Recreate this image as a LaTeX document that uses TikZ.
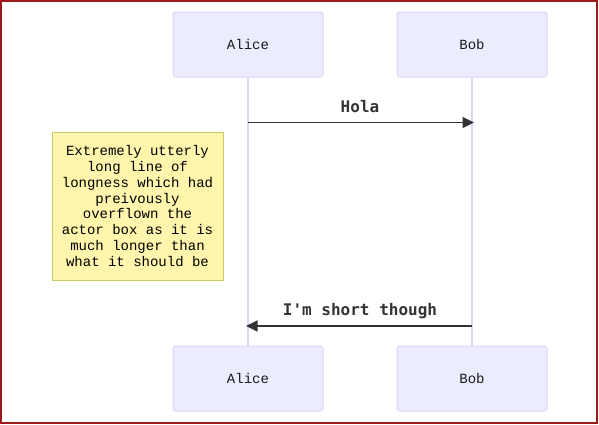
\documentclass[tikz,border=0pt]{standalone}
\usepackage{fontspec}
\usetikzlibrary{arrows.meta}
\newfontfamily\actorfont{Liberation Mono}
\newfontfamily\notefont{Liberation Mono}
\newfontfamily\msgfont{DejaVu Sans Mono}
\definecolor{actorfill}{HTML}{ECECFF}
\definecolor{actorline}{HTML}{DCD3F7}
\definecolor{lifeline}{HTML}{DCD3F7}
\definecolor{notefill}{HTML}{FFF5AD}
\definecolor{noteline}{HTML}{CCCC66}
\definecolor{ink}{HTML}{333333}
\definecolor{frame}{HTML}{9E1A1A}
\tikzset{
  actorbox/.style={draw=actorline, fill=actorfill, line width=1pt, rounded corners=3pt,
    minimum width=150pt, minimum height=65pt, inner sep=0pt,
    font=\actorfont\fontsize{14}{16}\selectfont, text=black!90},
  notebox/.style={draw=noteline, fill=notefill, line width=1pt,
    minimum width=171pt, minimum height=148pt, inner sep=0pt, align=center,
    font=\notefont\fontsize{14}{15.8}\selectfont, text=black},
  lifeln/.style={draw=lifeline, line width=1.2pt},
  msg/.style={draw=ink, line width=1.7pt, -{Triangle[length=11.5pt,width=11pt]}},
  msglabel/.style={font=\msgfont\bfseries\fontsize{16}{18}\selectfont, text=ink, inner sep=0pt},
}
\begin{document}
\begin{tikzpicture}[x=1pt,y=-1pt]
\useasboundingbox (0,0) rectangle (599,424);
\draw[frame, line width=2pt] (1,1) rectangle (597,422.5);
% actors
\node[actorbox] (at) at (248,44.5) {Alice};
\node[actorbox] (bt) at (472,44.5) {Bob};
\node[actorbox] (ab) at (248,378.5) {Alice};
\node[actorbox] (bb) at (472,378.5) {Bob};
% lifelines
\draw[lifeln] (at.south) -- (ab.north);
\draw[lifeln] (bt.south) -- (bb.north);
% message coordinates
\coordinate (a1) at (248,122.5);
\coordinate (b1) at (474,122.5);
\coordinate (a2) at (246,326);
\coordinate (b2) at (472,326);
\draw[msg] (a1) -- (b1);
\node[msglabel] (l1) at (360,107) {Hola};
\draw[msg] (b2) -- (a2);
\node[msglabel] (l2) at (360,311) {I'm short though};
% note
\node[notebox] (note) at (137.5,206) {Extremely utterly\\long line of\\longness which had\\preivously\\overflown the\\actor box as it is\\much longer than\\what it should be};
\end{tikzpicture}
\end{document}
